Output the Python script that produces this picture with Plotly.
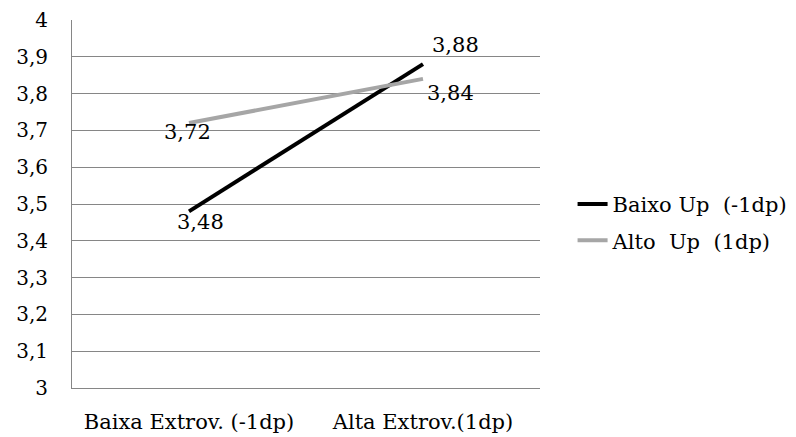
import plotly.graph_objects as go

# Categories and series values
categories = ["Baixa Extrov. (-1dp)", "Alta Extrov.(1dp)"]
baixo_up = [3.48, 3.88]
alto_up = [3.72, 3.84]
series_names = ["Baixo\u00a0Up\u00a0\u00a0(-1dp)", "Alto\u00a0\u00a0Up\u00a0\u00a0(1dp)"]

# Y axis ticks
y_ticks = [3.0, 3.1, 3.2, 3.3, 3.4, 3.5, 3.6, 3.7, 3.8, 3.9, 4.0]
y_tick_text = ["3", "3,1", "3,2", "3,3", "3,4", "3,5", "3,6", "3,7", "3,8", "3,9", "4"]

FONT = "DejaVu Serif"
FS = 21
BLACK = "#000000"
GRAY = "#a6a6a6"


def fmt(v):
    return f"{v:.2f}".replace(".", ",")


x_idx = list(range(len(categories)))

fig = go.Figure()
fig.add_trace(go.Scatter(
    x=x_idx, y=baixo_up, mode="lines", name=series_names[0], legendgroup="a",
    line=dict(color=BLACK, width=4),
))
fig.add_trace(go.Scatter(
    x=x_idx, y=alto_up, mode="lines", name=series_names[1], legendgroup="b",
    line=dict(color=GRAY, width=4),
))

# Data labels: (series, point index, x shift, y shift)
label_specs = [
    (baixo_up, 0, 11, -11),
    (baixo_up, 1, 32, 19),
    (alto_up, 0, -2, -9),
    (alto_up, 1, 27, -14),
]
for series, i, dx, dy in label_specs:
    fig.add_annotation(
        x=x_idx[i], y=series[i], text=fmt(series[i]), showarrow=False,
        xshift=dx, yshift=dy, font=dict(family=FONT, size=FS, color=BLACK),
    )

fig.update_layout(
    width=796, height=437,
    margin=dict(l=72, r=256, t=20, b=49, autoexpand=False),
    paper_bgcolor="white", plot_bgcolor="white",
    font=dict(family=FONT, size=FS, color=BLACK),
    showlegend=True,
    legend=dict(
        x=1.0696, y=0.45, xanchor="left", yanchor="middle",
        font=dict(family=FONT, size=FS, color=BLACK),
        bgcolor="rgba(0,0,0,0)", tracegroupgap=6, itemwidth=30,
    ),
)
fig.update_xaxes(
    range=[-0.5, 1.5], tickmode="array", tickvals=x_idx, ticktext=categories,
    showgrid=False, zeroline=False, showline=True, linecolor="#868686", linewidth=1,
    ticks="", ticklabelstandoff=15, fixedrange=True, automargin=False,
    tickfont=dict(family=FONT, size=FS, color=BLACK),
)
fig.update_yaxes(
    range=[3, 4], tickmode="array", tickvals=y_ticks, ticktext=y_tick_text,
    showgrid=True, gridcolor="#868686", gridwidth=1, zeroline=False,
    showline=True, linecolor="#868686", linewidth=1,
    ticks="", ticklabelstandoff=19, fixedrange=True, automargin=False,
    tickfont=dict(family=FONT, size=20, color=BLACK),
)

fig.write_html("out.html")
